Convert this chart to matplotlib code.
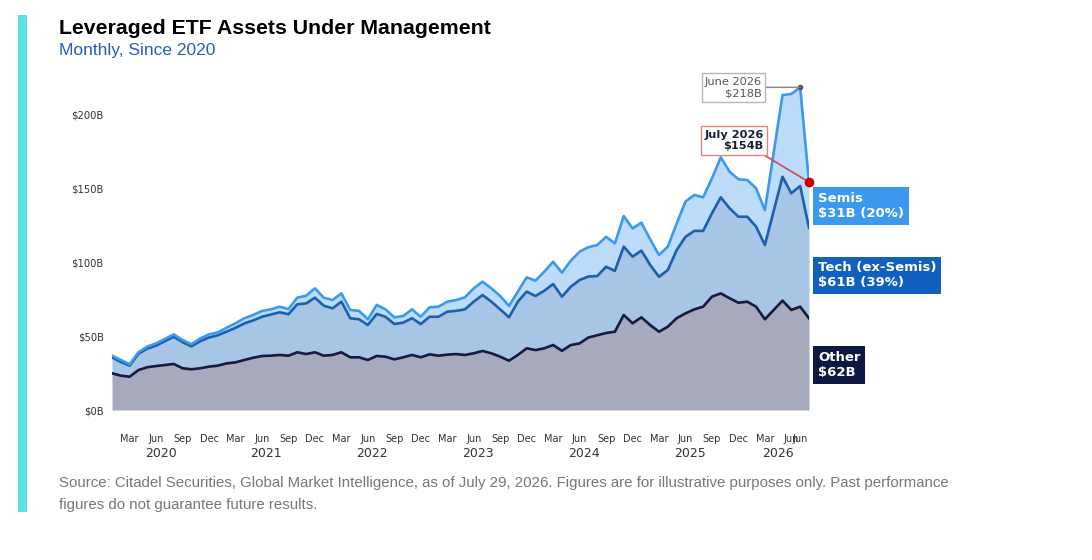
import numpy as np
import matplotlib
matplotlib.use("Agg")
import matplotlib.pyplot as plt

# month-end levels, Dec 2019 .. Jul 2026 ($B, stacked)
other = [24.8, 23.2, 22.5, 27.0, 28.9, 29.7, 30.4, 31.1, 28.2, 27.5, 28.2, 29.3,
         30.0, 31.5, 32.2, 33.8, 35.3, 36.5, 36.7, 37.2, 36.7, 39.0, 37.8, 39.0,
         36.7, 37.2, 39.0, 35.6, 35.6, 33.8, 36.5, 36.0, 34.2, 35.6, 37.2, 35.6,
         37.6, 36.7, 37.4, 37.8, 37.2, 38.3, 39.9, 38.3, 36.0, 33.3, 37.2, 41.7,
         40.5, 41.7, 43.9, 40.0, 43.9, 45.0, 49.0, 50.5, 52.0, 52.9, 64.2, 58.6,
         62.6, 57.4, 52.9, 56.3, 62.0, 65.3, 68.0, 69.8, 76.6, 78.8, 75.5, 72.5,
         73.2, 69.8, 61.3, 67.6, 73.9, 67.6, 69.8, 62.0]
tech_top = [35.5, 32.5, 30.0, 38.0, 41.5, 43.5, 46.5, 49.5, 45.8, 43.0, 46.5, 49.0,
            50.5, 53.0, 55.5, 58.5, 60.5, 63.0, 64.5, 66.0, 64.7, 71.4, 72.0, 75.9,
            70.5, 68.7, 73.2, 62.0, 61.3, 57.4, 64.9, 63.0, 58.1, 59.0, 62.0, 58.1,
            63.0, 63.0, 66.4, 67.0, 68.0, 73.2, 77.7, 73.2, 68.0, 62.6, 73.2, 80.0,
            77.0, 80.6, 85.1, 76.6, 83.3, 87.8, 90.2, 90.5, 96.8, 94.0, 110.4, 103.6,
            107.7, 98.0, 90.0, 94.6, 108.0, 117.0, 121.0, 121.0, 132.9, 143.7, 136.3, 130.6,
            130.6, 123.9, 111.5, 134.5, 157.6, 146.4, 151.4, 123.0]
total = [36.7, 33.8, 30.9, 39.0, 42.8, 45.0, 48.0, 51.1, 47.3, 44.4, 48.4, 51.1,
         52.5, 55.6, 58.6, 62.0, 64.2, 66.9, 68.0, 69.8, 68.2, 75.9, 77.2, 82.2,
         75.9, 74.3, 78.8, 67.6, 67.0, 61.3, 71.0, 68.0, 62.6, 63.5, 68.0, 63.0,
         69.4, 69.8, 73.2, 74.3, 76.1, 82.2, 86.7, 82.2, 77.0, 70.3, 80.0, 89.6,
         87.4, 93.5, 100.2, 92.8, 100.9, 107.0, 110.0, 111.5, 117.0, 112.6, 131.0, 122.7,
         126.6, 115.3, 104.7, 110.4, 126.0, 140.8, 145.3, 143.7, 156.5, 170.7, 161.0, 155.9,
         155.4, 149.8, 135.0, 174.0, 212.8, 213.5, 218.0, 154.0]

month_ticks = ["Mar", "Jun", "Sep", "Dec"] * 6 + ["Mar", "Jun", "Jun"]
month_pos = list(range(2, 75, 3)) + [77, 78]
years = ["2020", "2021", "2022", "2023", "2024", "2025", "2026"]
year_pos = [5.5, 17.5, 29.5, 41.5, 53.5, 65.5, 75.5]
y_ticks = [0, 50, 100, 150, 200]

x = np.arange(len(total))

fig = plt.figure(figsize=(10.92, 5.6), dpi=100)
ax = fig.add_axes([112 / 1092, 150 / 560, 697 / 1092, 333 / 560])

ax.fill_between(x, 0, other, color="#a7a9bd", lw=0)
ax.fill_between(x, other, tech_top, color="#a7c6e5", lw=0)
ax.fill_between(x, tech_top, total, color="#bcdcf9", lw=0)
ax.plot(x, other, color="#151b3f", lw=1.9)
ax.plot(x, tech_top, color="#1d5fae", lw=1.9)
ax.plot(x, total, color="#3a9af0", lw=1.9)

ax.set_xlim(0, 79)
ax.set_ylim(0, 225)
for s in ax.spines.values():
    s.set_visible(False)

ax.set_yticks(y_ticks)
ax.set_yticklabels([f"${v}B" for v in y_ticks], fontsize=7.2, color="#333333")
ax.set_xticks(month_pos)
ax.set_xticklabels(month_ticks, fontsize=7, color="#333333")
ax.tick_params(axis="y", length=0, pad=6)
ax.tick_params(axis="x", length=0, pad=17)
for yr, p in zip(years, year_pos):
    ax.text(p, -0.132, yr, transform=ax.get_xaxis_transform(), ha="center",
            va="center", fontsize=9, color="#333333")

# peak and latest callouts
ax.annotate("June 2026\n$218B", xy=(78, total[78]), xytext=(-48, 0),
            textcoords="offset points", ha="center", va="center",
            multialignment="right", fontsize=8.2, color="#555555",
            bbox=dict(boxstyle="square,pad=0.3", fc="white", ec="#b5b5b5", lw=1),
            arrowprops=dict(arrowstyle="-", color="#888888", lw=1,
                            shrinkA=0, shrinkB=0, relpos=(1, 0.5)))
ax.plot(78, total[78], "o", color="#555555", ms=3)
ax.annotate("July 2026\n$154B", xy=(79, total[79]), xytext=(-54, 30),
            textcoords="offset points", ha="center", va="center",
            multialignment="right", fontsize=8.2, fontweight="bold", color="#1a1f3d",
            bbox=dict(boxstyle="square,pad=0.3", fc="white", ec="#e08585", lw=1),
            arrowprops=dict(arrowstyle="-", color="#c94b4b", lw=1.2,
                            shrinkA=0, shrinkB=0, relpos=(0.9, 0)))
ax.plot(79, total[79], "o", color="#cc0000", ms=6, clip_on=False, zorder=5)

# series labels on the right
label_kw = dict(ha="left", va="center", fontsize=9.5, fontweight="bold",
                color="white", linespacing=1.2)
fig.text(818 / 1092, 1 - 206 / 560, "Semis\n$31B (20%)", **label_kw,
         bbox=dict(boxstyle="square,pad=0.35", fc="#3b99ee", ec="none"))
fig.text(818 / 1092, 1 - 275.5 / 560, "Tech (ex-Semis)\n$61B (39%)", **label_kw,
         bbox=dict(boxstyle="square,pad=0.35", fc="#1260bd", ec="none"))
fig.text(818 / 1092, 1 - 365 / 560, "Other\n$62B", **label_kw,
         bbox=dict(boxstyle="square,pad=0.35", fc="#0c1742", ec="none"))

# header, footer and accent bar
fig.patches.append(plt.Rectangle((18 / 1092, 1 - 512 / 560), 9 / 1092, 497 / 560,
                                 transform=fig.transFigure, color="#5ce1e6", lw=0))
fig.text(59 / 1092, 1 - 28 / 560, "Leveraged ETF Assets Under Management",
         fontsize=15.3, fontweight="bold", family="Liberation Sans", va="center")
fig.text(59 / 1092, 1 - 50 / 560, "Monthly, Since 2020", fontsize=12.5,
         color="#2a5cbf", family="Liberation Sans", va="center")
fig.text(59 / 1092, 1 - 483 / 560,
         "Source: Citadel Securities, Global Market Intelligence, as of July 29, 2026. "
         "Figures are for illustrative purposes only. Past performance",
         fontsize=10.8, color="#777777", family="Liberation Sans", va="center")
fig.text(59 / 1092, 1 - 505 / 560, "figures do not guarantee future results.",
         fontsize=10.8, color="#777777", family="Liberation Sans", va="center")

fig.savefig("out.png", dpi=100)
